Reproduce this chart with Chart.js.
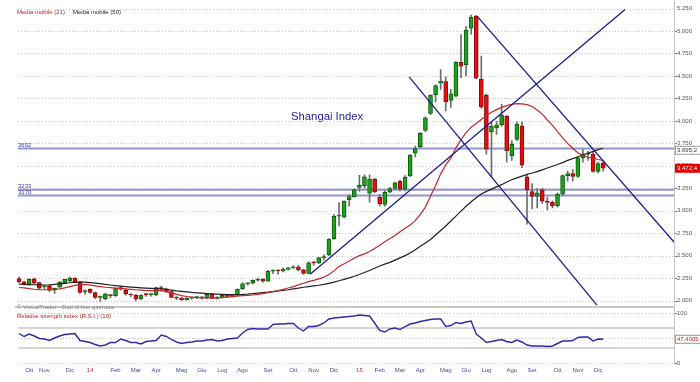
<!DOCTYPE html>
<html><head><meta charset="utf-8">
<script src="https://cdn.jsdelivr.net/npm/chart.js@4.4.0/dist/chart.umd.min.js"></script>
<style>
html,body{margin:0;padding:0;background:#fff;}
#wrap{position:relative;width:700px;height:382px;overflow:hidden;background:#fff;font-family:"Liberation Sans",Arial,sans-serif;}
canvas{position:absolute;left:0;}
.t{position:absolute;white-space:nowrap;line-height:1;}
</style></head><body>
<div id="wrap">
<canvas id="c1" width="700" height="312" style="top:0"></canvas>
<canvas id="c2" width="700" height="82" style="top:300px"></canvas>
<div class="t" style="left:17px;top:9px;font-size:6px;color:#c02020">Media mobile (21)</div>
<div class="t" style="left:73px;top:9px;font-size:6px;color:#222">Media mobile (50)</div>
<div class="t" style="left:291px;top:110.5px;font-size:11.3px;color:#2626a0">Shangai Index</div>
<div class="t" style="left:17px;top:303.7px;font-size:6px;color:#888">© VisualTrader - Dati di fine giornata</div>
<div class="t" style="left:17px;top:313px;font-size:6px;color:#c02020">Relative strength index (R.S.I.) (10)</div>
</div>
<script>
// ---- DATA (weekly candles, index 0 = end Sep 2013 ... 115 = Dec 2015) ----
const opens = [2245,2207,2182,2243,2200,2152,2165,2116,2150,2199,
2220,2250,2207,2095,2127,2090,2035,2020,2060,2054,
2145,2116,2065,2062,2018,2069,2066,2062,2145,2130,
2100,2036,2026,2011,2026,2034,2039,2029,2070,2024,
2036,2059,2047,2060,2130,2185,2194,2226,2240,2217,
2326,2331,2329,2347,2364,2374,2341,2302,2420,2418,
2478,2507,2690,2938,2931,3123,3157,3258,3280,3196,
3352,3149,3069,3207,3247,3330,3241,3388,3641,3714,
3895,4084,4293,4420,4438,4228,4275,4652,4627,5033,
5163,4464,4283,3880,3921,3957,4050,3612,3793,3946,
3377,3214,3160,3232,3100,3092,3053,3183,3391,3412,
3383,3590,3632,3630,3436,3532];
const highs = [2262,2215,2242,2250,2205,2170,2175,2140,2210,2240,
2260,2255,2212,2120,2130,2095,2050,2080,2065,2140,
2160,2125,2075,2070,2065,2080,2080,2150,2160,2140,
2105,2045,2040,2035,2040,2050,2045,2080,2075,2045,
2065,2065,2065,2130,2200,2200,2230,2250,2245,2335,
2345,2345,2365,2370,2390,2390,2350,2430,2440,2480,
2510,2690,2960,3090,3110,3180,3240,3395,3400,3400,
3360,3180,3220,3260,3320,3340,3390,3625,3720,3870,
4045,4290,4400,4572,4490,4350,4660,4960,5050,5178,
5176,4720,4300,3990,3995,4185,4060,3780,3990,3990,
3400,3300,3250,3250,3150,3110,3200,3400,3440,3460,
3600,3680,3660,3650,3540,3560];
const lows = [2195,2170,2170,2185,2130,2130,2100,2080,2145,2190,
2210,2200,2080,2070,2080,2020,1990,2010,2030,2045,
2115,2060,2040,2000,2010,2045,2050,2055,2105,2090,
2030,2010,2000,2005,2015,2020,2015,2020,2020,2015,
2030,2040,2040,2055,2125,2170,2185,2215,2205,2215,
2300,2290,2320,2340,2355,2330,2290,2300,2390,2410,
2450,2500,2680,2830,2920,3050,3150,3214,3250,3095,
3200,3050,3050,3200,3240,3220,3220,3380,3600,3700,
3880,4070,4210,4350,4110,4150,4270,4480,4500,4965,
4470,4140,3630,3373,3850,3940,3540,3560,3780,3480,
2850,3020,3030,3080,3010,3030,3040,3170,3330,3330,
3370,3540,3560,3430,3420,3440];
const closes = [2207,2180,2236,2193,2139,2160,2116,2135,2205,2236,
2250,2210,2090,2110,2090,2036,2040,2073,2054,2134,
2127,2073,2062,2018,2062,2066,2069,2145,2130,2097,
2036,2026,2011,2026,2034,2039,2029,2070,2024,2036,
2059,2047,2059,2126,2185,2194,2226,2240,2217,2326,
2331,2329,2347,2364,2374,2341,2302,2420,2418,2478,
2487,2683,2938,2938,3108,3157,3235,3285,3376,3351,
3210,3076,3204,3247,3310,3241,3372,3617,3691,3863,
4035,4287,4394,4441,4210,4301,4652,4609,5007,5152,
4475,4156,3685,3940,3957,4065,3667,3739,3964,3508,
3232,3160,3200,3105,3092,3053,3183,3391,3412,3383,
3590,3632,3630,3436,3525,3472.4];
const ma21 = [2145,2140,2133,2126,2121,2120,2121,2124,2130,2142,
2155,2168,2178,2180,2172,2163,2155,2148,2143,2139,
2135,2130,2125,2120,2115,2111,2110,2112,2110,2100,
2085,2068,2055,2045,2038,2032,2030,2029,2029,2030,
2033,2038,2043,2050,2055,2058,2062,2068,2078,2088,
2100,2112,2125,2140,2155,2175,2192,2210,2225,2242,
2260,2290,2330,2380,2410,2440,2470,2500,2520,2545,
2580,2615,2655,2690,2725,2765,2805,2840,2890,2960,
3040,3160,3280,3410,3510,3585,3700,3790,3870,3930,
3970,4015,4060,4095,4125,4150,4170,4185,4192,4190,
4180,4160,4120,4075,4010,3950,3880,3810,3750,3695,
3645,3615,3595,3582,3570,3560];
const ma50 = [2182,2180,2178,2176,2174,2173,2175,2180,2185,2192,
2198,2203,2206,2204,2200,2195,2188,2180,2173,2166,
2160,2155,2150,2146,2142,2139,2136,2133,2130,2125,
2117,2108,2102,2096,2090,2086,2082,2078,2075,2072,
2069,2067,2066,2066,2068,2072,2078,2083,2088,2093,
2100,2106,2113,2120,2130,2138,2148,2155,2163,2170,
2180,2192,2205,2220,2236,2252,2270,2290,2312,2335,
2360,2385,2405,2425,2450,2475,2500,2530,2565,2605,
2640,2680,2730,2780,2830,2885,2940,2995,3050,3100,
3145,3185,3215,3240,3265,3290,3320,3345,3365,3385,
3405,3420,3435,3455,3475,3495,3515,3535,3560,3580,
3600,3620,3640,3660,3680,3695.2];
const rsi = [59,53,58,54,49,48,45,50,54,57,
58,59,45,43,41,37,34,36,41,41,
48,45,41,41,38,43,44,45,56,53,
47,42,39,41,42,44,44,46,47,44,
45,48,49,50,60,67,69,68,68,68,
77,78,78,79,79,70,64,73,73,75,
80,88,90,91,92,93,94,96,95,94,
80,65,62,68,70,67,73,78,80,83,
85,87,88,88,73,75,81,79,82,84,
58,50,41,43,45,47,43,41,46,42,
36,34,34,34,33,34,39,44,44,45,
51,52,52,44,48,47.4005];
// trendlines: [week index, price]
const trendUp = [[57.3,2293],[119.3,5239]];
const trendDown1 = [[76.8,4489],[113.8,1946]];
const trendDown2 = [[90.2,5163],[128.93,2652]];
// horizontal levels
const levels = [3692,3233,3170];
const levelLabels = ['3692','3233','3170'];
// axis ticks
const priceTicks = [2000,2250,2500,2750,3000,3250,3500,3750,4000,4250,4500,4750,5000,5250];
const tickWeeks = [2,5,10,14,19,23,27,32,36,40,44,49,54,58,62,67,71,75,79,84,88,92,97,101,106,110,114];
const tickLabels = ['Ott','Nov','Dic','14','Feb','Mar','Apr','Mag','Giu','Lug','Ago','Set','Ott','Nov','Dic','15','Feb','Mar','Apr','Mag','Giu','Lug','Ago','Set','Ott','Nov','Dic'];
const rsiSolid = [30,70];
const rsiDotted = [0,50,100];

// ---- helpers ----
const X_MIN = -0.79, X_MAX = 128.93, Y_MIN = 1946, Y_MAX = 5272;
function fmtNum(v, dec){
  const s = Number(v).toFixed(dec);
  const parts = s.split('.');
  parts[0] = parts[0].replace(/\B(?=(\d{3})+(?!\d))/g,'.');
  return parts.length>1 ? parts[0]+','+parts[1] : parts[0];
}
Chart.defaults.font.family = '"Liberation Sans", Arial, sans-serif';
const N = closes.length;
const idx = closes.map((_,i)=>i);
const pts = (arr)=>arr.map(p=>({x:p[0],y:p[1]}));

const decorA = {
  id:'decorA',
  beforeDatasetsDraw(chart){
    const {ctx, chartArea:a, scales:{y}} = chart;
    ctx.save();
    ctx.strokeStyle = '#c4c4c4'; ctx.lineWidth = 1; ctx.setLineDash([1,2]);
    priceTicks.forEach(v=>{
      const py = Math.round(y.getPixelForValue(v))+0.5;
      ctx.beginPath(); ctx.moveTo(a.left+3, py); ctx.lineTo(a.right, py); ctx.stroke();
    });
    ctx.setLineDash([]);
    ctx.strokeStyle = '#777';
    priceTicks.forEach(v=>{
      const py = Math.round(y.getPixelForValue(v))+0.5;
      if (py < a.top+4) return;
      ctx.beginPath(); ctx.moveTo(a.right, py); ctx.lineTo(a.right+3, py); ctx.stroke();
    });
    ctx.strokeStyle = '#9494cc'; ctx.lineWidth = 2;
    levels.forEach(v=>{
      const py = y.getPixelForValue(v);
      ctx.beginPath(); ctx.moveTo(a.left+3, py); ctx.lineTo(a.right, py); ctx.stroke();
    });
    ctx.strokeStyle = '#c8c8c8'; ctx.lineWidth = 1;
    ctx.beginPath(); ctx.moveTo(a.right+0.5, 0); ctx.lineTo(a.right+0.5, chart.height); ctx.stroke();
    ctx.lineWidth = 2;
    ctx.beginPath(); ctx.moveTo(a.left, a.bottom+1.5); ctx.lineTo(a.right, a.bottom+1.5); ctx.stroke();
    ctx.restore();
  },
  afterDraw(chart){
    const {ctx, chartArea:a, scales:{y}} = chart;
    ctx.save();
    ctx.font = '6px "Liberation Sans", Arial, sans-serif';
    ctx.textBaseline = 'alphabetic';
    ctx.fillStyle = '#3a3aa0';
    levels.forEach((v,i)=>{
      const py = y.getPixelForValue(v);
      ctx.fillText(levelLabels[i], a.left+3, py-1.5);
    });
    const vMa = ma50[N-1];
    let py = y.getPixelForValue(vMa)+2;
    ctx.fillStyle = '#fff'; ctx.fillRect(a.right+1, py-4.5, 27, 9);
    ctx.strokeStyle = '#999'; ctx.lineWidth = 1; ctx.strokeRect(a.right+1.5, py-4, 27, 8);
    ctx.fillStyle = '#333'; ctx.textBaseline = 'middle';
    ctx.fillText(fmtNum(vMa,1), a.right+3, py+0.5);
    const vC = closes[N-1];
    py = y.getPixelForValue(vC);
    ctx.fillStyle = '#e00000'; ctx.fillRect(a.right+1, py-4.5, 27, 9);
    ctx.fillStyle = '#fff';
    ctx.fillText(fmtNum(vC,1), a.right+3, py+0.5);
    ctx.restore();
  }
};

const decorB = {
  id:'decorB',
  beforeDatasetsDraw(chart){
    const {ctx, chartArea:a, scales:{y}} = chart;
    ctx.save();
    ctx.lineWidth = 1; ctx.strokeStyle = '#c4c4c4'; ctx.setLineDash([1,2]);
    rsiDotted.forEach(v=>{
      const py = Math.round(y.getPixelForValue(v))+0.5;
      ctx.beginPath(); ctx.moveTo(a.left+3, py); ctx.lineTo(a.right, py); ctx.stroke();
    });
    ctx.setLineDash([]);
    ctx.strokeStyle = '#d6d6d6'; ctx.lineWidth = 2;
    rsiSolid.forEach(v=>{
      const py = y.getPixelForValue(v);
      ctx.beginPath(); ctx.moveTo(a.left+3, py); ctx.lineTo(a.right, py); ctx.stroke();
    });
    ctx.strokeStyle = '#777'; ctx.lineWidth = 1;
    [0,100].forEach(v=>{
      const py = Math.round(y.getPixelForValue(v))+0.5;
      ctx.beginPath(); ctx.moveTo(a.right, py); ctx.lineTo(a.right+3, py); ctx.stroke();
    });
    ctx.strokeStyle = '#c8c8c8';
    ctx.beginPath(); ctx.moveTo(a.right+0.5, 12); ctx.lineTo(a.right+0.5, a.bottom+1); ctx.stroke();
    ctx.restore();
  },
  afterDraw(chart){
    const {ctx, chartArea:a, scales:{y}} = chart;
    ctx.save();
    ctx.font = '6px "Liberation Sans", Arial, sans-serif';
    const v = rsi[N-1];
    const py = y.getPixelForValue(v);
    ctx.fillStyle = '#fff'; ctx.fillRect(a.right+1, py-4.5, 27, 9);
    ctx.strokeStyle = '#999'; ctx.strokeRect(a.right+1.5, py-4, 27, 8);
    ctx.fillStyle = '#d02020'; ctx.textBaseline = 'middle';
    ctx.fillText(fmtNum(v,4), a.right+3, py+0.5);
    ctx.restore();
  }
};

const bodyData = idx.map(i=>({x:i, y:[opens[i], closes[i]]}));
const wickData = idx.map(i=>({x:i, y:[lows[i], highs[i]]}));
const up = idx.map(i=>closes[i] >= opens[i]);

new Chart(document.getElementById('c1'), {
  type:'bar',
  data:{datasets:[
    {type:'line', data:pts(trendUp), borderColor:'#1c1c8c', borderWidth:1.3, pointRadius:0, order:0},
    {type:'line', data:pts(trendDown1), borderColor:'#1c1c8c', borderWidth:1.3, pointRadius:0, order:0},
    {type:'line', data:pts(trendDown2), borderColor:'#1c1c8c', borderWidth:1.3, pointRadius:0, order:0},
    {type:'line', data:idx.map(i=>({x:i,y:ma21[i]})), borderColor:'#c0282a', borderWidth:1.2, pointRadius:0, order:1},
    {type:'line', data:idx.map(i=>({x:i,y:ma50[i]})), borderColor:'#222222', borderWidth:1.2, pointRadius:0, order:1},
    {type:'bar', data:bodyData, backgroundColor:up.map(u=>u?'#1fa01f':'#e80c0c'), borderColor:up.map(u=>u?'#0b5e0b':'#8a0a0a'), borderWidth:1, borderSkipped:false, barThickness:4, grouped:false, minBarLength:1, order:2},
    {type:'bar', data:wickData, backgroundColor:'#6e6e6e', borderWidth:0, barThickness:1, grouped:false, order:3}
  ]},
  options:{
    responsive:false, animation:false, devicePixelRatio:1,
    layout:{padding:{left:15, top:4, right:0, bottom:2}},
    plugins:{legend:{display:false}, tooltip:{enabled:false}},
    scales:{
      x:{type:'linear', display:false, min:X_MIN, max:X_MAX, offset:false},
      y:{type:'linear', position:'right', min:Y_MIN, max:Y_MAX,
         grid:{display:false, drawTicks:false}, border:{display:false},
         afterFit(s){ s.width = 26; },
         afterBuildTicks(s){ s.ticks = priceTicks.map(v=>({value:v})); },
         ticks:{padding:3, color:'#555', font:{size:6}, callback:(v)=>fmtNum(v,0)}}
    }
  },
  plugins:[decorA]
});

new Chart(document.getElementById('c2'), {
  type:'line',
  data:{datasets:[{data:idx.map(i=>({x:i,y:rsi[i]})), borderColor:'#2b2ba8', borderWidth:1.4, pointRadius:0}]},
  options:{
    responsive:false, animation:false, devicePixelRatio:1,
    layout:{padding:{left:15, top:13, right:0, bottom:0}},
    plugins:{legend:{display:false}, tooltip:{enabled:false}},
    scales:{
      x:{type:'linear', min:X_MIN, max:X_MAX, offset:false,
         grid:{display:false, drawTicks:false}, border:{display:false},
         afterFit(s){ s.height = 19; },
         afterBuildTicks(s){ s.ticks = tickWeeks.map(v=>({value:v})); },
         ticks:{autoSkip:false, maxRotation:0, minRotation:0, padding:4, font:{size:6},
                color:(c)=> /^\d+$/.test(tickLabels[c.index]) ? '#c03030' : '#4848a0',
                callback:(v,i)=>tickLabels[i]}},
      y:{type:'linear', position:'right', min:0, max:100,
         grid:{display:false, drawTicks:false}, border:{display:false},
         afterFit(s){ s.width = 26; },
         afterBuildTicks(s){ s.ticks = [{value:0},{value:100}]; },
         ticks:{padding:3, color:'#555', font:{size:6}}}
    }
  },
  plugins:[decorB]
});
</script>
</body></html>
